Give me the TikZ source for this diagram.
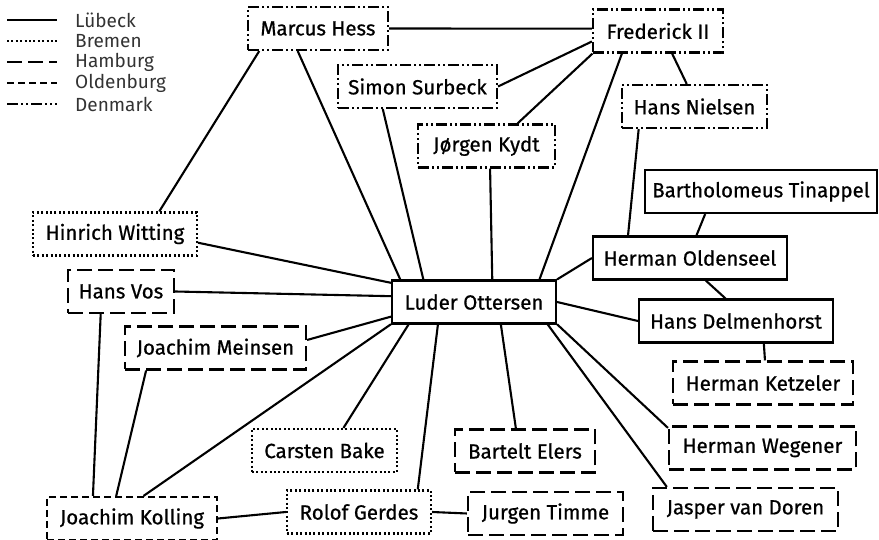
\documentclass[tikz,border=0pt]{standalone}
\usepackage{fontspec}
\setmainfont{Fira Sans}
\newfontfamily\namefont{Fira Sans}[FakeBold=0.7]
\usetikzlibrary{positioning}
\tikzset{
  person/.style={draw, line width=2.1pt, minimum height=43pt, inner xsep=4pt,
    font=\namefont\fontsize{20.5}{24}\selectfont},
  legend/.style={font=\fontsize{19}{22}\selectfont, text=black!80, inner xsep=2pt},
  link/.style={line width=2.1pt},
  luebeck/.style={solid},
  bremen/.style={dash pattern=on 2pt off 2.4pt},
  hamburg/.style={dash pattern=on 15pt off 6pt},
  oldenburg/.style={dash pattern=on 7pt off 4pt},
  denmark/.style={dash pattern=on 11pt off 3pt on 2pt off 3pt on 2pt off 3pt},
}

\begin{document}
\begin{tikzpicture}[x=1pt,y=1pt]
  \useasboundingbox (0,0) rectangle (879,540);
  % legend
  \foreach \city/\sty [count=\i] in {Lübeck/luebeck, Bremen/bremen, Hamburg/hamburg, Oldenburg/oldenburg, Denmark/denmark} {
    \draw[\sty, line width=2.1pt] (7,541-21*\i) -- (57,541-21*\i);
    \node[legend, anchor=west] (lg\i) at (73,541-21*\i) {\city};
  }
  % people
  \node[person, denmark, minimum width=140pt] (mh) at (318,511.5) {Marcus Hess};
  \node[person, denmark, minimum width=130pt] (fr) at (658,509) {Frederick II};
  \node[person, denmark, minimum width=159pt] (ss) at (417.5,453.5) {Simon Surbeck};
  \node[person, denmark, minimum width=145pt] (hn) at (694.5,433.5) {Hans Nielsen};
  \node[person, denmark, minimum width=137pt] (jk) at (486.5,394) {Jørgen Kydt};
  \node[person, luebeck, minimum width=164pt] (lo) at (474,238) {Luder Ottersen};
  \node[person, bremen, minimum width=164pt] (hw) at (115,306) {Hinrich Witting};
  \node[person, hamburg, minimum width=106pt] (hv) at (121,248.5) {Hans Vos};
  \node[person, hamburg, minimum width=181pt] (jm) at (215.5,192) {Joachim Meinsen};
  \node[person, luebeck, minimum width=232pt] (bt) at (761,348.5) {Bartholomeus Tinappel};
  \node[person, luebeck, minimum width=194pt] (ho) at (690,282) {Herman Oldenseel};
  \node[person, luebeck, minimum width=194pt] (hd) at (736,219) {Hans Delmenhorst};
  \node[person, hamburg, minimum width=180pt] (hk) at (763,157) {Herman Ketzeler};
  \node[person, hamburg, minimum width=187pt] (hwe) at (762.5,92) {Herman Wegener};
  \node[person, hamburg, minimum width=185pt] (jv) at (745.5,30.5) {Jasper van Doren};
  \node[person, hamburg, minimum width=140pt] (be) at (525,89) {Bartelt Elers};
  \node[person, hamburg, minimum width=155pt] (jt) at (545.5,26.5) {Jurgen Timme};
  \node[person, bremen, minimum width=145pt] (cb) at (324.5,89.5) {Carsten Bake};
  \node[person, bremen, minimum width=144pt] (rg) at (359,28) {Rolof Gerdes};
  \node[person, oldenburg, minimum width=170pt] (jko) at (132,21.5) {Joachim Kolling};
  % ties
  \path[link]
    (mh.east) edge (fr.178)
    (mh.201) edge (hw.27)
    (mh.228.5) edge (lo.163)
    (ss.east) edge (fr.189)
    (ss.213.5) edge (lo.156)
    (fr.199.5) edge (jk.36)
    (fr.212) edge (lo.19)
    (fr.302.5) edge (hn.109)
    (jk.279) edge (lo.51)
    (hn.202) edge (ho.160)
    (bt.202) edge (ho.74)
    (ho.west) edge (lo.north east)
    (ho.305.5) edge (hd.115.5)
    (hd.west) edge (lo.east)
    (hd.321) edge (hk.85)
    (hw.-6) edge (lo.167.5)
    (hv.east) edge (lo.176)
    (jm.5.7) edge (lo.190.5)
    (hv.228.5) edge (jko.150.5)
    (jm.198) edge (jko.125)
    (jko.63) edge (lo.195.5)
    (cb.50.6) edge (lo.199.6)
    (rg.21.8) edge (lo.212.5)
    (jko.east) edge (rg.west)
    (rg.east) edge (jt.west)
    (be.112) edge (lo.320)
    (hwe.168.5) edge (lo.345)
    (jv.164.5) edge (lo.343);
\end{tikzpicture}
\end{document}
